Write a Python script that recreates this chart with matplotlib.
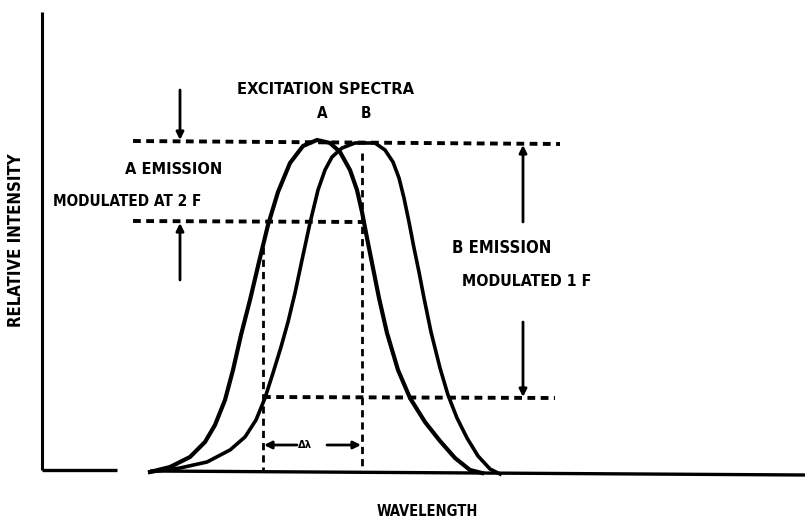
import matplotlib.pyplot as plt

# pixel coords (y grows downward)
curve_a_x = [150, 170, 190, 205, 215, 225, 233, 241, 250, 259, 268, 278, 290, 303, 317,
             330, 340, 350, 357, 362, 367, 373, 379, 387, 398, 410, 425, 440, 455, 470, 482]
curve_a_y = [472, 467, 457, 442, 425, 400, 370, 335, 300, 262, 225, 192, 163, 146, 140,
             143, 152, 170, 190, 212, 238, 268, 298, 333, 370, 398, 422, 441, 458, 470, 473]

curve_b_x = [150, 180, 207, 230, 245, 256, 265, 273, 281, 288, 295, 302, 310, 318, 325,
             332, 342, 355, 375, 385, 393, 399, 404, 409, 414, 419, 424, 431, 440, 448,
             457, 467, 478, 490, 500]
curve_b_y = [472, 468, 462, 450, 437, 420, 398, 373, 347, 322, 293, 260, 223, 190, 170,
             157, 148, 143, 143, 150, 162, 178, 198, 222, 248, 272, 298, 332, 368, 395,
             418, 438, 456, 469, 474]

# axes of the sketch
axis_v = ([42, 42], [12, 470])
axis_h_left = ([42, 117], [470, 470])
axis_h_main = ([150, 805], [471, 475])

# dashed guides: (x0, x1, y0, y1)
dashed_h = [(133, 560, 141, 144), (133, 363, 221, 222), (263, 555, 397, 398)]
dashed_v = [(263, 263, 247, 470), (362, 362, 153, 473)]

# arrows: (x_tail, y_tail, x_head, y_head)
arrows = [(180, 90, 180, 140), (180, 280, 180, 223),
          (523, 222, 523, 145), (523, 322, 523, 397),
          (297, 445, 264, 445), (327, 445, 361, 445)]

labels = [
    ("EXCITATION SPECTRA", 237, 90, 'left', 0, 11.8),
    ("A", 322, 113, 'center', 0, 11),
    ("B", 366, 113, 'center', 0, 11),
    ("A EMISSION", 125, 169, 'left', 0, 11.7),
    ("MODULATED AT 2 F", 53, 201, 'left', 0, 11),
    ("B EMISSION", 452, 248, 'left', 0, 12),
    ("MODULATED 1 F", 462, 282, 'left', 0, 11.4),
    ("Δλ", 305, 445, 'center', 0, 8),
    ("WAVELENGTH", 427, 512, 'center', 0, 10.5),
    ("RELATIVE INTENSITY", 16, 240, 'center', 90, 12),
]

fig = plt.figure(figsize=(8.05, 5.20), dpi=100)
ax = fig.add_axes([0, 0, 1, 1])
ax.set_xlim(0, 805)
ax.set_ylim(520, 0)
ax.axis('off')

ax.plot(*axis_v, color='k', lw=2.2, solid_capstyle='butt')
ax.plot(*axis_h_left, color='k', lw=2.4, solid_capstyle='butt')
ax.plot(*axis_h_main, color='k', lw=2.4, solid_capstyle='butt')

ax.plot(curve_a_x, curve_a_y, color='k', lw=3.0, solid_joinstyle='round')
ax.plot(curve_b_x, curve_b_y, color='k', lw=2.6, solid_joinstyle='round')

for x0, x1, y0, y1 in dashed_h:
    ax.plot([x0, x1], [y0, y1], color='k', lw=2.8, linestyle=(0, (2, 1.4)))
for x0, x1, y0, y1 in dashed_v:
    ax.plot([x0, x1], [y0, y1], color='k', lw=2.0, linestyle=(0, (2.6, 1.8)))

for xt, yt, xh, yh in arrows:
    ax.annotate("", xy=(xh, yh), xytext=(xt, yt),
                arrowprops=dict(arrowstyle='-|>', color='k', lw=2.0,
                                mutation_scale=11, shrinkA=0, shrinkB=0))

for txt, x, y, ha, rot, size in labels:
    ax.text(x, y, txt, ha=ha, va='center', rotation=rot, fontsize=size,
            fontweight='bold', family='DejaVu Sans', fontstretch='condensed')

fig.savefig("out.png", dpi=100, facecolor='white')
